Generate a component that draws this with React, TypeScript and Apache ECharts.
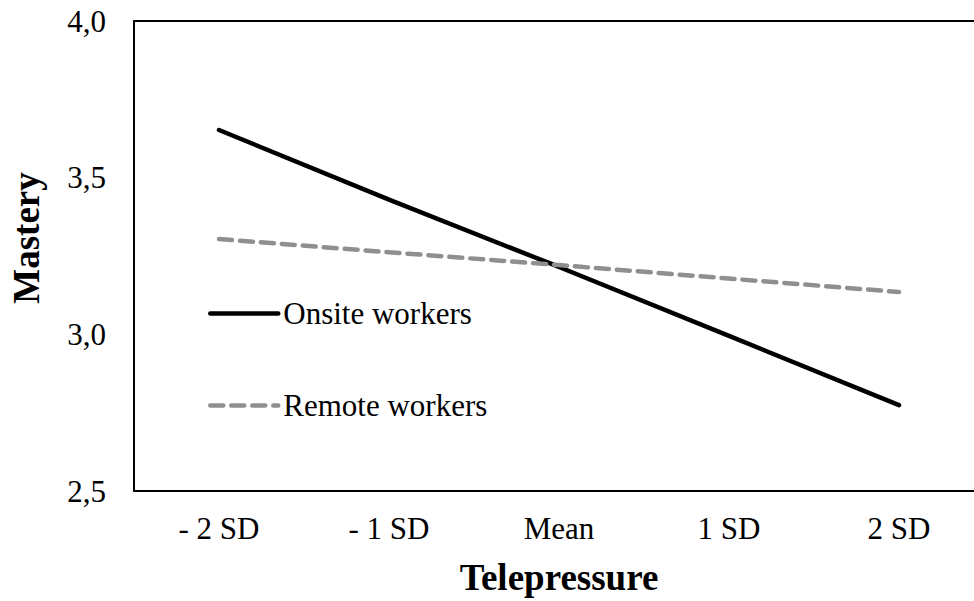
import React, { useEffect, useRef } from "react";
import * as echarts from "echarts";

const categories = ["- 2 SD", "- 1 SD", "Mean", "1 SD", "2 SD"];
const onsiteWorkers = [3.652, 3.43, 3.215, 2.995, 2.774];
const remoteWorkers = [3.304, 3.262, 3.221, 3.178, 3.135];
const yTicks = [2.5, 3.0, 3.5, 4.0];

const FONT = "'Liberation Serif', 'Times New Roman', serif";

export default function App() {
  const ref = useRef<HTMLDivElement>(null);
  useEffect(() => {
    document.body.style.margin = "0";
    const chart = echarts.init(ref.current!, null, { renderer: "svg" });
    chart.setOption({
      animation: false,
      backgroundColor: "#ffffff",
      grid: {
        left: 134,
        top: 21,
        width: 850,
        height: 470,
        show: false,
      },
      legend: {
        orient: "vertical",
        left: 208,
        top: 298,
        padding: 0,
        itemWidth: 68,
        itemHeight: 10,
        itemGap: 61,
        itemStyle: { opacity: 0 },
        lineStyle: { width: 4.5, cap: "round" },
        textStyle: { fontFamily: FONT, fontSize: 31, color: "#000" },
        data: ["Onsite workers", "Remote workers"],
      },
      xAxis: [
        {
          type: "category",
          data: categories,
          boundaryGap: true,
          axisLine: { show: true, lineStyle: { color: "#000", width: 2 } },
          axisTick: { show: false },
          axisLabel: { fontFamily: FONT, fontSize: 31, color: "#000", margin: 22 },
        },
        {
          type: "category",
          position: "top",
          data: categories,
          boundaryGap: true,
          axisLine: { show: true, lineStyle: { color: "#000", width: 2 } },
          axisTick: { show: false },
          axisLabel: { show: false },
        },
      ],
      yAxis: {
        type: "value",
        min: yTicks[0],
        max: yTicks[yTicks.length - 1],
        interval: 0.5,
        splitLine: { show: false },
        axisLine: { show: true, lineStyle: { color: "#000", width: 2 } },
        axisTick: { show: false },
        axisLabel: {
          fontFamily: FONT,
          fontSize: 31,
          color: "#000",
          margin: 28,
          formatter: (v: number) => v.toFixed(1).replace(".", ","),
        },
      },
      graphic: [
        {
          type: "text",
          x: 559,
          y: 577,
          style: {
            text: "Telepressure",
            fontFamily: FONT,
            fontSize: 37,
            fontWeight: "bold",
            fill: "#000",
            align: "center",
            verticalAlign: "middle",
          },
        },
        {
          type: "text",
          x: 26,
          y: 238,
          rotation: Math.PI / 2,
          style: {
            text: "Mastery",
            fontFamily: FONT,
            fontSize: 37,
            fontWeight: "bold",
            fill: "#000",
            align: "center",
            verticalAlign: "middle",
          },
        },
      ],
      series: [
        {
          name: "Onsite workers",
          type: "line",
          data: onsiteWorkers,
          symbol: "none",
          lineStyle: { color: "#000000", width: 4.5, cap: "round" },
          itemStyle: { color: "#000000" },
        },
        {
          name: "Remote workers",
          type: "line",
          data: remoteWorkers,
          symbol: "none",
          lineStyle: { color: "#8f8f8f", width: 4.5, type: [13, 8], cap: "round" },
          itemStyle: { color: "#8f8f8f" },
        },
      ],
    });
    return () => chart.dispose();
  }, []);
  return (
    <div style={{ width: 974, height: 601, overflow: "hidden" }}>
      <div ref={ref} style={{ width: 1000, height: 601 }} />
    </div>
  );
}
